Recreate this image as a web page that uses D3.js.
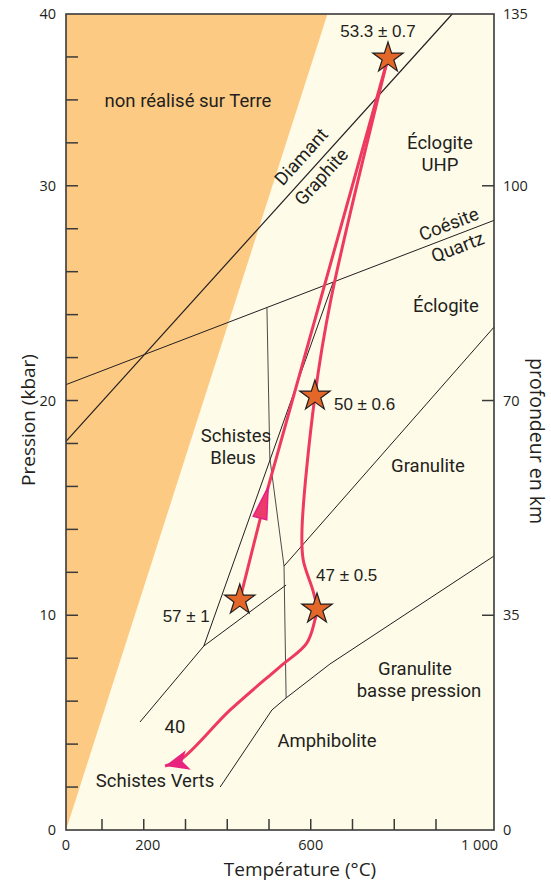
<!DOCTYPE html>
<html>
<head>
<meta charset="utf-8">
<script src="https://cdn.jsdelivr.net/npm/d3@7"></script>
<style>
  body { margin: 0; background: #fff; }
  text { font-family: "Open Sans", sans-serif; fill: #231f20; }
</style>
</head>
<body>
<svg id="chart" width="551" height="883"></svg>
<script>
// ---- data (température en °C, pression en kbar) ----
const tempTicks = [0, 100, 200, 300, 400, 500, 600, 700, 800, 900, 1000];
const tempLabelValues = [0, 200, 600, 1000];
const tempLabels = ["0", "200", "600", "1 000"];
const pressMinorTicks = [2, 4, 6, 8, 12, 14, 16, 18, 22, 24, 26, 28, 32, 34, 36];
const pressMajorTicks = [0, 10, 20, 30, 38];
const pressLabels = ["0", "10", "20", "30", "40"];
const depthLabels = ["0", "35", "70", "100", "135"];

const nonRealise = [[0, 0], [640, 38], [0, 38]];
const diamantGraphite = [[0, 18.1], [928, 38]];
const coesiteQuartz = [[0, 20.74], [1000, 28.39]];
const schistesBleusLimit = [[495, 24.36], [502, 17.32], [536, 12.29], [541, 6.15]];
const granuliteLimit = [[536, 12.29], [1000, 23.42]];
const schistesVertsLimit = [[191, 5.03], [344, 8.57], [541, 11.41]];
const eclogiteLimit = [[344, 8.57], [653, 25.47]];
const amphiboliteLimit = [[383, 2.0], [507, 5.59], [541, 6.15]];
const granuliteBPLimit = [[541, 6.15], [646, 7.73], [1000, 12.76]];

const prograde = [[430, 10.71], [498, 15.97], [785, 35.95]];
const retrograde = [[785, 35.95], [760, 34.0], [648, 24.68], [610, 20.21], [579, 13.97],
  [582, 12.57], [606, 11.1], [615, 10.29], [610, 9.78], [590, 8.69], [526, 7.6],
  [407, 5.59], [290, 3.3], [251, 2.98]];

const starT = [785, 610, 430, 615];
const starP = [35.95, 20.21, 10.71, 10.29];
const starLabels = ["53.3 ± 0.7", "50 ± 0.6", "57 ± 1", "47 ± 0.5"];

// ---- layout ----
const svg = d3.select("#chart");
const plotLeft = 66, plotRight = 494, plotTop = 14, plotBottom = 830;

const x = d3.scaleLinear().domain([0, 100, 900, 1000]).range([plotLeft, 102, 436, plotRight]);
const y = d3.scaleLinear().domain([0, 38]).range([plotBottom, plotTop]);

const line = d3.line().x(d => x(d[0])).y(d => y(d[1]));

svg.append("rect")
  .attr("x", plotLeft).attr("y", plotTop)
  .attr("width", plotRight - plotLeft).attr("height", plotBottom - plotTop)
  .attr("fill", "#fefbe8");

svg.append("path")
  .datum(nonRealise)
  .attr("d", d => line(d) + "Z")
  .attr("fill", "#fdca84");

const limits = [diamantGraphite, coesiteQuartz, schistesBleusLimit, granuliteLimit,
  schistesVertsLimit, eclogiteLimit, amphiboliteLimit, granuliteBPLimit];

svg.selectAll(".limit")
  .data(limits)
  .enter()
  .append("path")
  .attr("class", "limit")
  .attr("d", line)
  .attr("fill", "none")
  .attr("stroke", (d, i) => i === 2 ? "#4a4a4a" : "#231f20")
  .attr("stroke-width", (d, i) => i === 0 ? 1.2 : 1);

// arrow heads
const defs = svg.append("defs");
defs.append("marker")
  .attr("id", "headUp")
  .attr("viewBox", "-34 -8 36 16")
  .attr("markerUnits", "userSpaceOnUse")
  .attr("markerWidth", 36).attr("markerHeight", 16)
  .attr("refX", 0).attr("refY", 0)
  .attr("orient", "auto")
  .append("path")
  .attr("d", "M0,0L-32,-7L-32,7Z")
  .attr("fill", "#ec3a6a")
  .attr("stroke", "#e5208a")
  .attr("stroke-width", 1.5)
  .attr("stroke-linejoin", "miter");

defs.append("marker")
  .attr("id", "headEnd")
  .attr("viewBox", "-26 -12 28 24")
  .attr("markerUnits", "userSpaceOnUse")
  .attr("markerWidth", 28).attr("markerHeight", 24)
  .attr("refX", 0).attr("refY", 0)
  .attr("orient", "auto")
  .append("path")
  .attr("d", "M0,0L-24,-10L-18,0L-24,10Z")
  .attr("fill", "#e8247f");

svg.append("path")
  .datum(prograde)
  .attr("d", line)
  .attr("fill", "none")
  .attr("stroke", "#ee3a5f")
  .attr("stroke-width", 3)
  .attr("marker-mid", "url(#headUp)");

svg.append("path")
  .datum(retrograde)
  .attr("d", d3.line().x(d => x(d[0])).y(d => y(d[1])).curve(d3.curveCatmullRom))
  .attr("fill", "none")
  .attr("stroke", "#ee3a5f")
  .attr("stroke-width", 3)
  .attr("marker-end", "url(#headEnd)");

// stars
const star = d3.symbol().type(d3.symbolStar).size(287);
svg.selectAll(".star")
  .data(starT)
  .enter()
  .append("path")
  .attr("class", "star")
  .attr("transform", (d, i) => `translate(${x(d)},${y(starP[i])})`)
  .attr("d", star)
  .attr("fill", "#e4672a")
  .attr("stroke", "#231f20")
  .attr("stroke-width", 1.2);

const starLabelOffset = [[-10, -21, "middle"], [19, 14, "start"], [-30, 22, "end"], [-1, -28, "start"]];
svg.selectAll(".starLabel")
  .data(starLabels)
  .enter()
  .append("text")
  .attr("class", "starLabel")
  .attr("x", (d, i) => x(starT[i]) + starLabelOffset[i][0])
  .attr("y", (d, i) => y(starP[i]) + starLabelOffset[i][1])
  .attr("text-anchor", (d, i) => starLabelOffset[i][2])
  .style("font-family", "'Liberation Sans', Arial, sans-serif")
  .style("font-size", "17px")
  .text(d => d);

// frame and axes
svg.append("rect")
  .attr("x", plotLeft).attr("y", plotTop)
  .attr("width", plotRight - plotLeft).attr("height", plotBottom - plotTop)
  .attr("fill", "none")
  .attr("stroke", "#3a3a3a")
  .attr("stroke-width", 1.6);

const tickStroke = "#3a3a3a";
svg.selectAll(".xTick")
  .data(tempTicks.slice(1, -1))
  .enter()
  .append("line")
  .attr("x1", d => x(d)).attr("x2", d => x(d))
  .attr("y1", plotBottom).attr("y2", plotBottom - 11)
  .attr("stroke", tickStroke).attr("stroke-width", 1.5);

svg.selectAll(".yMinor")
  .data(pressMinorTicks.concat(pressMajorTicks.slice(1, -1)))
  .enter()
  .append("line")
  .attr("x1", plotLeft).attr("x2", plotLeft + 12)
  .attr("y1", d => y(d)).attr("y2", d => y(d))
  .attr("stroke", tickStroke).attr("stroke-width", 1.5);

svg.selectAll(".yRight")
  .data(pressMajorTicks.slice(1, -1))
  .enter()
  .append("line")
  .attr("x1", plotRight - 12).attr("x2", plotRight)
  .attr("y1", d => y(d)).attr("y2", d => y(d))
  .attr("stroke", tickStroke).attr("stroke-width", 1.5);

svg.selectAll(".xLabel")
  .data(tempLabelValues)
  .enter()
  .append("text")
  .attr("x", (d, i) => i === tempLabelValues.length - 1 ? x(d) + 4 : x(d) + (i === 1 ? 4 : 0))
  .attr("y", 850)
  .attr("text-anchor", (d, i) => i === tempLabelValues.length - 1 ? "end" : "middle")
  .style("font-size", "14.5px")
  .text((d, i) => tempLabels[i]);

svg.selectAll(".yLabel")
  .data(pressMajorTicks)
  .enter()
  .append("text")
  .attr("x", 56)
  .attr("y", d => y(d) + 5)
  .attr("text-anchor", "end")
  .style("font-size", "14.5px")
  .text((d, i) => pressLabels[i]);

svg.selectAll(".depthLabel")
  .data(pressMajorTicks)
  .enter()
  .append("text")
  .attr("x", 503)
  .attr("y", d => y(d) + 5)
  .attr("text-anchor", "start")
  .style("font-size", "14.5px")
  .text((d, i) => depthLabels[i]);

svg.append("text")
  .attr("x", 300).attr("y", 876)
  .attr("text-anchor", "middle")
  .style("font-size", "19px")
  .text("Température (°C)");

svg.append("text")
  .attr("transform", "translate(35,420) rotate(-90)")
  .attr("text-anchor", "middle")
  .style("font-size", "19px")
  .text("Pression (kbar)");

svg.append("text")
  .attr("transform", "translate(530,441) rotate(90)")
  .attr("text-anchor", "middle")
  .style("font-size", "19.5px")
  .text("profondeur en km");

// region labels (multi-line ones as tspans)
const regionLabels = [
  { lines: ["non réalisé sur Terre"], x: 188, y: 107 },
  { lines: ["Éclogite", "UHP"], x: 440, y: 149 },
  { lines: ["Éclogite"], x: 446, y: 312 },
  { lines: ["Schistes", "Bleus"], x: 236, y: 442 },
  { lines: ["Granulite"], x: 428, y: 472 },
  { lines: ["Granulite", "basse pression"], x: 415, y: 675 },
  { lines: ["Amphibolite"], x: 327, y: 747 },
  { lines: ["Schistes Verts"], x: 155, y: 787 },
  { lines: ["40"], x: 175, y: 733 }
];
const regionDx = { "UHP": 0, "Bleus": -3, "basse pression": 4 };
const regionText = svg.selectAll(".region")
  .data(regionLabels)
  .enter()
  .append("text")
  .attr("class", "region")
  .attr("text-anchor", "middle")
  .style("font-family", "Roboto, sans-serif")
  .style("font-size", "18.5px");

regionText.selectAll("tspan")
  .data(d => d.lines.map((t, i) => ({ t, i, x: d.x, y: d.y })))
  .enter()
  .append("tspan")
  .attr("x", d => d.x + (regionDx[d.t] || 0))
  .attr("y", d => d.y + d.i * 22)
  .text(d => d.t);

const rotatedLabels = [
  { text: "Diamant", x: 306, y: 161, a: -48 },
  { text: "Graphite", x: 326, y: 181, a: -48 },
  { text: "Coésite", x: 451, y: 230, a: -21 },
  { text: "Quartz", x: 460, y: 253, a: -21 }
];
svg.selectAll(".rot")
  .data(rotatedLabels)
  .enter()
  .append("text")
  .attr("transform", d => `translate(${d.x},${d.y}) rotate(${d.a})`)
  .attr("text-anchor", "middle")
  .style("font-family", "Roboto, sans-serif")
  .style("font-size", "18.5px")
  .text(d => d.text);
</script>
</body>
</html>
